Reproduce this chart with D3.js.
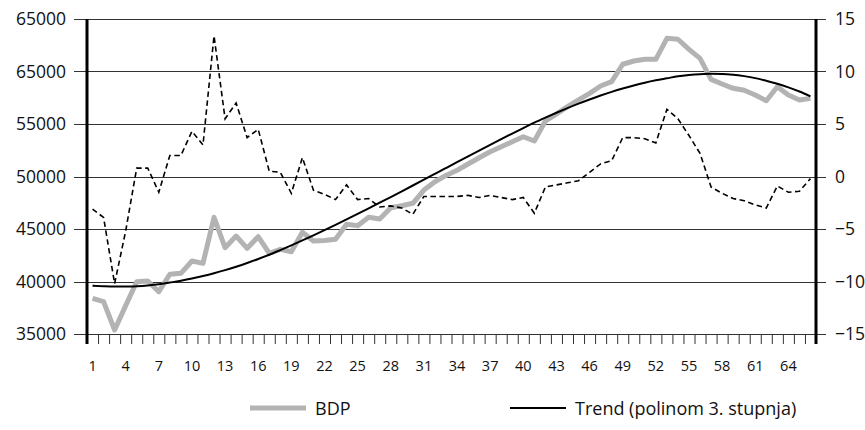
<!DOCTYPE html>
<html>
<head>
<meta charset="utf-8">
<script src="https://cdn.jsdelivr.net/npm/d3@7"></script>
<style>
  body { margin: 0; background: #fff; }
  svg text { font-family: "Open Sans", sans-serif; fill: #111; }
</style>
</head>
<body>
<div id="chart"></div>
<script>
// kategorije 1..66
const periods = d3.range(1, 67);

// BDP (lijeva os)
const bdp = [38400, 38080, 35380, 37700, 39980, 40050, 39030, 40690, 40780, 41950,
  41730, 46110, 43220, 44330, 43160, 44270, 42690, 43060, 42840, 44690,
  43860, 43900, 44020, 45450, 45320, 46110, 45950, 47030, 47220, 47450,
  48710, 49500, 50100, 50590, 51190, 51790, 52360, 52840, 53310, 53790,
  53380, 55290, 55950, 56650, 57290, 57920, 58620, 59030, 60690, 61000,
  61160, 61160, 63160, 63070, 62110, 61250, 59250, 58810, 58400, 58210,
  57760, 57220, 58550, 57760, 57290, 57440];

// trend (polinom 3. stupnja) procitan sa slike
const trend = [39600, 39545, 39515, 39515, 39550, 39620, 39730, 39900, 40080, 40285,
  40520, 40785, 41080, 41405, 41760, 42145, 42550, 42990, 43445, 43915,
  44398, 44893, 45398, 45913, 46436, 46966, 47503, 48045, 48592, 49142,
  49695, 50250, 50806, 51362, 51916, 52467, 53014, 53555, 54089, 54614,
  55128, 55608, 56070, 56513, 56935, 57335, 57711, 58061, 58383, 58675,
  58935, 59161, 59351, 59540, 59660, 59740, 59780, 59770, 59700, 59560,
  59370, 59111, 58831, 58493, 58095, 57635];

// stopa rasta (desna os, isprekidano)
const growth = [-3.1, -3.9, -10.2, -5.2, 0.8, 0.8, -1.5, 2.0, 2.0, 4.3,
  3.0, 13.4, 5.5, 7.0, 3.7, 4.5, 0.5, 0.4, -1.6, 1.8,
  -1.3, -1.7, -2.2, -0.8, -2.2, -2.1, -2.9, -2.8, -3.0, -3.6,
  -1.9, -1.9, -1.9, -1.9, -1.8, -2.0, -1.8, -2.0, -2.2, -2.0,
  -3.5, -1.0, -0.8, -0.6, -0.4, 0.4, 1.2, 1.5, 3.7, 3.7,
  3.6, 3.2, 6.4, 5.5, 3.9, 2.2, -1.0, -1.6, -2.1, -2.3,
  -2.7, -3.0, -0.9, -1.5, -1.4, -0.2];

const leftTicks = [35000, 40000, 45000, 50000, 55000, 60000, 65000];
const leftLabels = ["35000", "40000", "45000", "50000", "55000", "65000", "65000"];
const rightTicks = [-15, -10, -5, 0, 5, 10, 15];
const xLabels = d3.range(1, 67, 3);
const legendNames = ["BDP", "Trend (polinom 3. stupnja)"];

const width = 865, height = 430;
const mLeft = 87, mRight = 816, mTop = 19, mBottom = 334;

const svg = d3.select("#chart").append("svg")
  .attr("width", width)
  .attr("height", height);

const x = d3.scaleBand().domain(periods).range([mLeft, mRight]).padding(0);
const xEdge = d3.scaleLinear().domain([0, periods.length]).range([mLeft, mRight]);
const yL = d3.scaleLinear().domain([35000, 65000]).range([mBottom, mTop]);
const yR = d3.scaleLinear().domain([-15, 15]).range([mBottom, mTop]);
const cx = d => x(d) + x.bandwidth() / 2;

// mreza
svg.append("g")
  .selectAll("line")
  .data(leftTicks)
  .join("line")
    .attr("x1", mLeft - 13).attr("x2", mRight + 10)
    .attr("y1", d => Math.round(yL(d)) + 0.5)
    .attr("y2", d => Math.round(yL(d)) + 0.5)
    .attr("stroke", "#333")
    .attr("stroke-width", 1);

// crtice ispod x osi
svg.append("g")
  .attr("transform", `translate(0,${mBottom})`)
  .call(d3.axisBottom(xEdge).ticks(periods.length).tickSize(10).tickFormat(""))
  .call(g => g.select(".domain").remove())
  .call(g => g.selectAll("line").attr("stroke", "#333"));

// oznake x osi
svg.append("g")
  .attr("transform", `translate(0,${mBottom})`)
  .call(d3.axisBottom(x).tickValues(xLabels).tickSize(0).tickPadding(27))
  .call(g => g.select(".domain").remove())
  .call(g => g.selectAll("text").style("font-size", "14.5px").attr("fill", "#111"));

// lijeva os
svg.append("g")
  .attr("transform", `translate(${mLeft},0)`)
  .call(d3.axisLeft(yL).tickValues(leftTicks).tickSize(0).tickPadding(21)
    .tickFormat((d, i) => leftLabels[i]))
  .call(g => g.select(".domain").remove())
  .call(g => g.selectAll("text").style("font-size", "17.5px").attr("fill", "#111"));

// desna os
svg.append("g")
  .attr("transform", `translate(${mRight},0)`)
  .call(d3.axisRight(yR).tickValues(rightTicks).tickSize(0).tickPadding(19))
  .call(g => g.select(".domain").remove())
  .call(g => g.selectAll("text").style("font-size", "17.5px").attr("fill", "#111"));

svg.append("line")
  .attr("x1", mLeft).attr("x2", mLeft).attr("y1", mTop).attr("y2", mBottom + 10)
  .attr("stroke", "#000").attr("stroke-width", 3);
svg.append("line")
  .attr("x1", mRight).attr("x2", mRight).attr("y1", mTop).attr("y2", mBottom + 10)
  .attr("stroke", "#000").attr("stroke-width", 3);

// linije
const lineL = d3.line().x((d, i) => cx(periods[i])).y(d => yL(d));
const lineR = d3.line().x((d, i) => cx(periods[i])).y(d => yR(d));

svg.append("path")
  .datum(bdp)
  .attr("d", lineL)
  .attr("fill", "none")
  .attr("stroke", "#b3b3b3")
  .attr("stroke-width", 5)
  .attr("stroke-linejoin", "round");

svg.append("path")
  .datum(trend)
  .attr("d", lineL.curve(d3.curveMonotoneX))
  .attr("fill", "none")
  .attr("stroke", "#000")
  .attr("stroke-width", 2);

svg.append("path")
  .datum(growth)
  .attr("d", lineR)
  .attr("fill", "none")
  .attr("stroke", "#000")
  .attr("stroke-width", 1.6)
  .attr("stroke-dasharray", "5.5,3.5");

// legenda
const legend = [
  {name: legendNames[0], color: "#b3b3b3", w: 5, x: 250},
  {name: legendNames[1], color: "#000", w: 2, x: 510}
];
const lg = svg.append("g").selectAll("g").data(legend).join("g")
  .attr("transform", d => `translate(${d.x},408)`);
lg.append("line")
  .attr("x1", 0).attr("x2", 56)
  .attr("stroke", d => d.color)
  .attr("stroke-width", d => d.w);
lg.append("text")
  .attr("x", 65).attr("y", 6.5)
  .style("font-size", "18px")
  .text(d => d.name);
</script>
</body>
</html>
